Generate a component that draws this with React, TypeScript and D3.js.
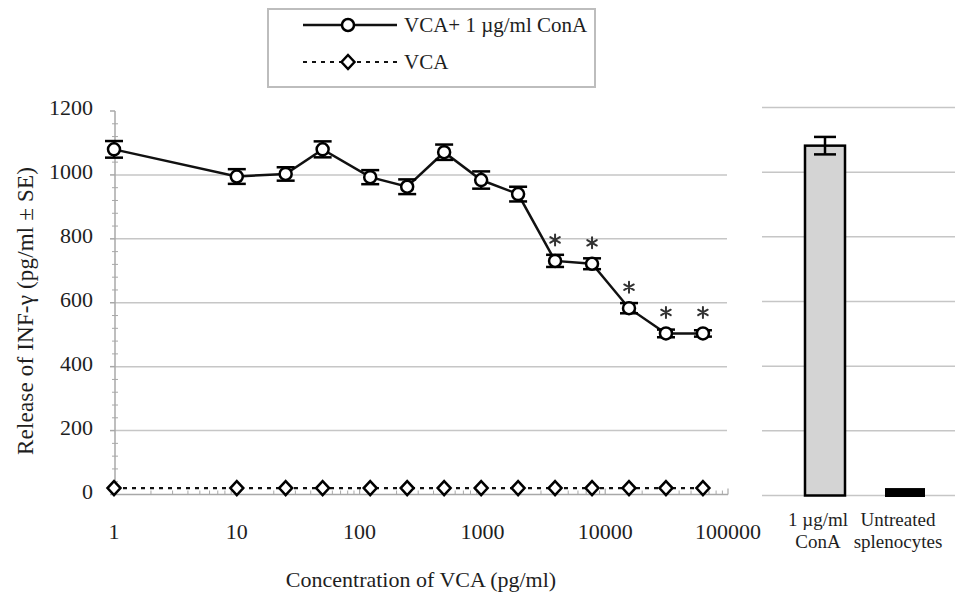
import React from "react";
import * as d3 from "d3";

// VCA concentrations (pg/ml)
const concentrations = [1, 10, 25, 50, 122, 244, 488, 977, 1953, 3906, 7813, 15625, 31250, 62500];
// INF-γ release with VCA + 1 µg/ml ConA (pg/ml)
const conAValues = [1080, 995, 1003, 1080, 993, 963, 1071, 984, 940, 731, 722, 583, 504, 504];
const conAErrors = [26, 23, 21, 25, 22, 23, 24, 27, 23, 19, 17, 16, 12, 10];
// significance markers for the ConA series
const significant = [false, false, false, false, false, false, false, false, false, true, true, true, true, true];
// INF-γ release with VCA alone (pg/ml)
const vcaValues = [20, 20, 20, 20, 20, 20, 20, 20, 20, 20, 20, 20, 20, 20];

// control bars
const controlLabels = [["1 µg/ml", "ConA"], ["Untreated", "splenocytes"]];
const controlValues = [1082, 23];
const controlErrors = [27, 0];
const controlFills = ["#d4d4d4", "#000000"];

const yTicks = [0, 200, 400, 600, 800, 1000, 1200];
const xTicks = [1, 10, 100, 1000, 10000, 100000];
const xTickLabels = ["1", "10", "100", "1000", "10000", "100000"];

const FONT = "'Liberation Serif', 'Times New Roman', serif";
const TEXT = "#1e1e1e";

export default function App() {
  const W = 955;
  const H = 596;

  const x = d3.scaleLog().domain([1, 100000]).range([114, 728]);
  const y = d3.scaleLinear().domain([0, 1200]).range([494.5, 111]);
  const yR = d3.scaleLinear().domain([0, 1200]).range([495.5, 107.5]);
  const xBand = d3.scaleBand<number>().domain([0, 1]).range([785, 945]);

  const conALine = d3
    .line<number>()
    .x((_, i) => x(concentrations[i]))
    .y((d) => y(d));
  const vcaLine = d3
    .line<number>()
    .x((_, i) => x(concentrations[i]))
    .y((d) => y(d));

  // minor ticks for the log axis
  const minorX: number[] = [];
  for (let p = 0; p < 5; p++) {
    for (let k = 2; k <= 9; k++) minorX.push(k * Math.pow(10, p));
  }
  const minorY = d3.range(0, 1201, 40).filter((v) => v % 200 !== 0);

  const diamond = (cx: number, cy: number) =>
    `M${cx},${cy - 7}L${cx + 6.5},${cy}L${cx},${cy + 7}L${cx - 6.5},${cy}Z`;

  // six-armed asterisk
  const asterisk = (cx: number, cy: number, r: number) => {
    const p = d3.path();
    for (let k = 0; k < 3; k++) {
      const a = Math.PI / 2 + (k * Math.PI) / 3;
      p.moveTo(cx + r * Math.cos(a), cy - r * Math.sin(a));
      p.lineTo(cx - r * Math.cos(a), cy + r * Math.sin(a));
    }
    return p.toString();
  };

  const gridColor = "#c6c6c6";
  const axisColor = "#a8a8a8";

  return (
    <svg width={W} height={H} style={{ position: "absolute", left: 0, top: 0, background: "#fff" }} fontFamily={FONT}>
      {/* left panel gridlines */}
      {yTicks.slice(1, -1).map((t) => (
        <line key={"g" + t} x1={115} x2={727} y1={y(t)} y2={y(t)} stroke={gridColor} strokeWidth={1.5} />
      ))}
      {/* y axis */}
      <line x1={115} x2={115} y1={y(1200)} y2={y(0)} stroke={axisColor} strokeWidth={1.5} />
      {yTicks.map((t) => (
        <line key={"yt" + t} x1={110} x2={115} y1={y(t)} y2={y(t)} stroke={axisColor} strokeWidth={1.5} />
      ))}
      {minorY.map((t) => (
        <line key={"ym" + t} x1={112} x2={118} y1={y(t)} y2={y(t)} stroke={axisColor} strokeWidth={1} />
      ))}
      {yTicks.map((t) => (
        <text key={"yl" + t} x={93} y={y(t) + 4} textAnchor="end" fontSize={22} fill={TEXT}>
          {t}
        </text>
      ))}
      {/* x axis */}
      <line x1={114} x2={728} y1={y(0)} y2={y(0)} stroke={axisColor} strokeWidth={1.5} />
      {minorX.map((t) => (
        <line key={"xm" + t} x1={x(t)} x2={x(t)} y1={y(0) - 4} y2={y(0)} stroke={axisColor} strokeWidth={1} />
      ))}
      {xTicks.map((t) => (
        <line key={"xt" + t} x1={x(t)} x2={x(t)} y1={y(0) - 6} y2={y(0)} stroke={axisColor} strokeWidth={1.2} />
      ))}
      {xTicks.map((t, i) => (
        <text key={"xl" + t} x={x(t)} y={539} textAnchor="middle" fontSize={22} fill={TEXT}>
          {xTickLabels[i]}
        </text>
      ))}
      <text x={421} y={587} textAnchor="middle" fontSize={22} fill={TEXT}>
        Concentration of VCA (pg/ml)
      </text>
      <text
        transform={`translate(33,${311}) rotate(-90)`}
        textAnchor="middle"
        fontSize={23}
        fill={TEXT}
        textLength={288}
        lengthAdjust="spacing"
      >
        Release of INF-γ (pg/ml ± SE)
      </text>

      {/* VCA alone series */}
      <path d={vcaLine(vcaValues) ?? ""} fill="none" stroke="#111" strokeWidth={2.2} strokeDasharray="4 5" />
      {vcaValues.map((v, i) => (
        <path key={"d" + i} d={diamond(x(concentrations[i]), y(v))} fill="#fff" stroke="#000" strokeWidth={2.5} />
      ))}

      {/* VCA + ConA series */}
      <path d={conALine(conAValues) ?? ""} fill="none" stroke="#111" strokeWidth={2.5} />
      {conAValues.map((v, i) => {
        const cx = x(concentrations[i]);
        const e = conAErrors[i];
        return (
          <g key={"c" + i} stroke="#000" strokeWidth={2.5}>
            <line x1={cx} x2={cx} y1={y(v + e)} y2={y(v - e)} />
            <line x1={cx - 9} x2={cx + 9} y1={y(v + e)} y2={y(v + e)} />
            <line x1={cx - 9} x2={cx + 9} y1={y(v - e)} y2={y(v - e)} />
            <circle cx={cx} cy={y(v)} r={6} fill="#fff" />
          </g>
        );
      })}
      {conAValues.map((v, i) =>
        significant[i] ? (
          <path
            key={"s" + i}
            d={asterisk(x(concentrations[i]), y(v) - 21, 5.5)}
            stroke="#333"
            strokeWidth={2}
            strokeLinecap="round"
            fill="none"
          />
        ) : null
      )}

      {/* right panel: controls */}
      {yTicks.map((t) => (
        <line key={"rg" + t} x1={762} x2={955} y1={yR(t)} y2={yR(t)} stroke={gridColor} strokeWidth={1.5} />
      ))}
      {controlValues.map((v, i) => {
        const bx = xBand(i)! + 20;
        const bw = 40;
        const cx = bx + bw / 2;
        const e = controlErrors[i];
        return (
          <g key={"b" + i}>
            <rect
              x={bx}
              y={yR(v)}
              width={bw}
              height={yR(0) - yR(v) + (i === 1 ? 1.5 : 0)}
              fill={controlFills[i]}
              stroke="#000"
              strokeWidth={i === 0 ? 2.5 : 0}
            />
            {e > 0 && (
              <g stroke="#000" strokeWidth={2.5}>
                <line x1={cx} x2={cx} y1={yR(v + e)} y2={yR(v)} />
                <line x1={cx} x2={cx} y1={yR(v)} y2={yR(v - e)} />
                <line x1={cx - 11} x2={cx + 11} y1={yR(v + e)} y2={yR(v + e)} />
                <line x1={cx - 11} x2={cx + 11} y1={yR(v - e)} y2={yR(v - e)} />
              </g>
            )}
            {controlLabels[i].map((l, j) => (
              <text key={l} x={cx - 7} y={526 + j * 22} textAnchor="middle" fontSize={19} fill={TEXT}>
                {l}
              </text>
            ))}
          </g>
        );
      })}

      {/* legend */}
      <rect x={268} y={9} width={327} height={78} fill="#fff" stroke="#bdbdbd" strokeWidth={2} />
      <line x1={303} x2={397} y1={25} y2={25} stroke="#111" strokeWidth={2.5} />
      <circle cx={348} cy={25} r={6} fill="#fff" stroke="#000" strokeWidth={2.5} />
      <text x={404} y={25} dy="0.35em" fontSize={21} fill={TEXT}>
        VCA+ 1 µg/ml ConA
      </text>
      <line x1={303} x2={397} y1={62} y2={62} stroke="#111" strokeWidth={2.2} strokeDasharray="4 5" />
      <path d={diamond(348, 62)} fill="#fff" stroke="#000" strokeWidth={2.5} />
      <text x={404} y={62} dy="0.35em" fontSize={21} fill={TEXT}>
        VCA
      </text>
    </svg>
  );
}
